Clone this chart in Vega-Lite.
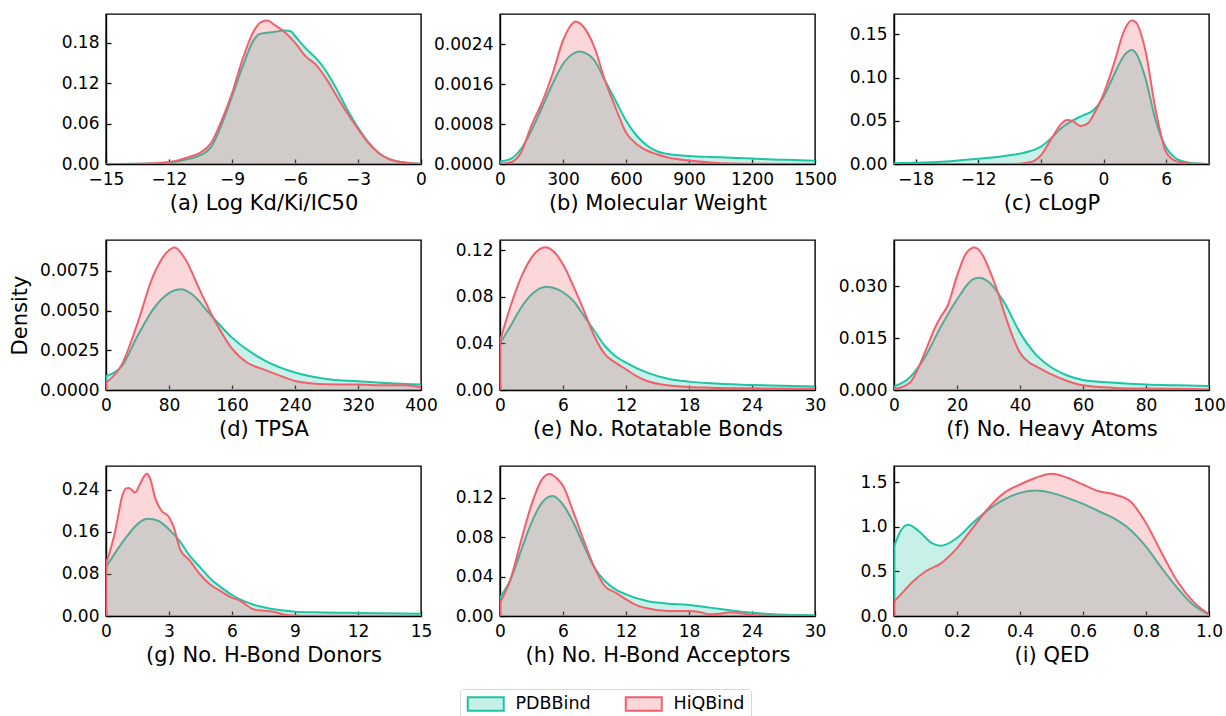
{
  "$schema": "https://vega.github.io/schema/vega-lite/v6.json",
  "description": "KDE of ligand properties, PDBBind vs HiQBind",
  "padding": {"left": 8, "top": 13, "right": 0, "bottom": 0},
  "background": "white",
  "data": {
    "values": [
      {"p":"a","s":"PDBBind","x":-15,"y":0},{"p":"a","s":"PDBBind","x":-13,"y":0.0005},{"p":"a","s":"PDBBind","x":-12,"y":0.002},{"p":"a","s":"PDBBind","x":-11,"y":0.008},{"p":"a","s":"PDBBind","x":-10.5,"y":0.013},{"p":"a","s":"PDBBind","x":-10,"y":0.025},{"p":"a","s":"PDBBind","x":-9.5,"y":0.058},{"p":"a","s":"PDBBind","x":-9,"y":0.1},{"p":"a","s":"PDBBind","x":-8.5,"y":0.144},{"p":"a","s":"PDBBind","x":-8,"y":0.182},{"p":"a","s":"PDBBind","x":-7.7,"y":0.193},{"p":"a","s":"PDBBind","x":-7,"y":0.196},{"p":"a","s":"PDBBind","x":-6.5,"y":0.198},{"p":"a","s":"PDBBind","x":-6.2,"y":0.197},{"p":"a","s":"PDBBind","x":-6,"y":0.19},{"p":"a","s":"PDBBind","x":-5.5,"y":0.172},{"p":"a","s":"PDBBind","x":-5,"y":0.157},{"p":"a","s":"PDBBind","x":-4.5,"y":0.137},{"p":"a","s":"PDBBind","x":-4,"y":0.11},{"p":"a","s":"PDBBind","x":-3.5,"y":0.08},{"p":"a","s":"PDBBind","x":-3,"y":0.054},{"p":"a","s":"PDBBind","x":-2.5,"y":0.032},{"p":"a","s":"PDBBind","x":-2,"y":0.016},{"p":"a","s":"PDBBind","x":-1.5,"y":0.007},{"p":"a","s":"PDBBind","x":-1,"y":0.003},{"p":"a","s":"PDBBind","x":-0.5,"y":0.0012},{"p":"a","s":"PDBBind","x":0,"y":0.0005},
      {"p":"a","s":"HiQBind","x":-15,"y":0},{"p":"a","s":"HiQBind","x":-13,"y":0.0008},{"p":"a","s":"HiQBind","x":-12,"y":0.003},{"p":"a","s":"HiQBind","x":-11,"y":0.011},{"p":"a","s":"HiQBind","x":-10.5,"y":0.017},{"p":"a","s":"HiQBind","x":-10,"y":0.031},{"p":"a","s":"HiQBind","x":-9.5,"y":0.064},{"p":"a","s":"HiQBind","x":-9,"y":0.105},{"p":"a","s":"HiQBind","x":-8.5,"y":0.155},{"p":"a","s":"HiQBind","x":-8,"y":0.195},{"p":"a","s":"HiQBind","x":-7.6,"y":0.211},{"p":"a","s":"HiQBind","x":-7.3,"y":0.213},{"p":"a","s":"HiQBind","x":-7,"y":0.207},{"p":"a","s":"HiQBind","x":-6.5,"y":0.196},{"p":"a","s":"HiQBind","x":-6,"y":0.18},{"p":"a","s":"HiQBind","x":-5.5,"y":0.16},{"p":"a","s":"HiQBind","x":-5,"y":0.147},{"p":"a","s":"HiQBind","x":-4.5,"y":0.126},{"p":"a","s":"HiQBind","x":-4,"y":0.1},{"p":"a","s":"HiQBind","x":-3.5,"y":0.075},{"p":"a","s":"HiQBind","x":-3,"y":0.052},{"p":"a","s":"HiQBind","x":-2.5,"y":0.031},{"p":"a","s":"HiQBind","x":-2,"y":0.016},{"p":"a","s":"HiQBind","x":-1.5,"y":0.007},{"p":"a","s":"HiQBind","x":-1,"y":0.003},{"p":"a","s":"HiQBind","x":-0.5,"y":0.0012},{"p":"a","s":"HiQBind","x":0,"y":0.0005},

      {"p":"b","s":"PDBBind","x":0,"y":0.00005},{"p":"b","s":"PDBBind","x":50,"y":0.0001},{"p":"b","s":"PDBBind","x":100,"y":0.0003},{"p":"b","s":"PDBBind","x":150,"y":0.00067},{"p":"b","s":"PDBBind","x":200,"y":0.00113},{"p":"b","s":"PDBBind","x":250,"y":0.0016},{"p":"b","s":"PDBBind","x":300,"y":0.002},{"p":"b","s":"PDBBind","x":350,"y":0.00221},{"p":"b","s":"PDBBind","x":375,"y":0.00225},{"p":"b","s":"PDBBind","x":400,"y":0.00223},{"p":"b","s":"PDBBind","x":450,"y":0.00207},{"p":"b","s":"PDBBind","x":500,"y":0.00167},{"p":"b","s":"PDBBind","x":550,"y":0.00127},{"p":"b","s":"PDBBind","x":600,"y":0.00087},{"p":"b","s":"PDBBind","x":650,"y":0.00057},{"p":"b","s":"PDBBind","x":700,"y":0.00037},{"p":"b","s":"PDBBind","x":750,"y":0.00025},{"p":"b","s":"PDBBind","x":800,"y":0.0002},{"p":"b","s":"PDBBind","x":900,"y":0.00016},{"p":"b","s":"PDBBind","x":1000,"y":0.00014},{"p":"b","s":"PDBBind","x":1100,"y":0.000127},{"p":"b","s":"PDBBind","x":1200,"y":0.00011},{"p":"b","s":"PDBBind","x":1300,"y":0.00009},{"p":"b","s":"PDBBind","x":1400,"y":0.00008},{"p":"b","s":"PDBBind","x":1500,"y":0.000067},
      {"p":"b","s":"HiQBind","x":0,"y":0},{"p":"b","s":"HiQBind","x":50,"y":0.00003},{"p":"b","s":"HiQBind","x":100,"y":0.00023},{"p":"b","s":"HiQBind","x":150,"y":0.00077},{"p":"b","s":"HiQBind","x":200,"y":0.00123},{"p":"b","s":"HiQBind","x":250,"y":0.0018},{"p":"b","s":"HiQBind","x":300,"y":0.00247},{"p":"b","s":"HiQBind","x":350,"y":0.00283},{"p":"b","s":"HiQBind","x":360,"y":0.00285},{"p":"b","s":"HiQBind","x":400,"y":0.00273},{"p":"b","s":"HiQBind","x":450,"y":0.00233},{"p":"b","s":"HiQBind","x":500,"y":0.00167},{"p":"b","s":"HiQBind","x":550,"y":0.00113},{"p":"b","s":"HiQBind","x":600,"y":0.00063},{"p":"b","s":"HiQBind","x":650,"y":0.0004},{"p":"b","s":"HiQBind","x":700,"y":0.00027},{"p":"b","s":"HiQBind","x":750,"y":0.00019},{"p":"b","s":"HiQBind","x":800,"y":0.00013},{"p":"b","s":"HiQBind","x":900,"y":0.00007},{"p":"b","s":"HiQBind","x":1000,"y":0.00003},{"p":"b","s":"HiQBind","x":1100,"y":0.00001},{"p":"b","s":"HiQBind","x":1200,"y":0.000005},{"p":"b","s":"HiQBind","x":1500,"y":0},

      {"p":"c","s":"PDBBind","x":-20,"y":0.001},{"p":"c","s":"PDBBind","x":-18,"y":0.0015},{"p":"c","s":"PDBBind","x":-15,"y":0.003},{"p":"c","s":"PDBBind","x":-12,"y":0.006},{"p":"c","s":"PDBBind","x":-10,"y":0.0085},{"p":"c","s":"PDBBind","x":-8,"y":0.012},{"p":"c","s":"PDBBind","x":-7,"y":0.015},{"p":"c","s":"PDBBind","x":-6,"y":0.02},{"p":"c","s":"PDBBind","x":-5,"y":0.03},{"p":"c","s":"PDBBind","x":-4,"y":0.042},{"p":"c","s":"PDBBind","x":-3,"y":0.05},{"p":"c","s":"PDBBind","x":-2,"y":0.056},{"p":"c","s":"PDBBind","x":-1,"y":0.062},{"p":"c","s":"PDBBind","x":0,"y":0.0775},{"p":"c","s":"PDBBind","x":1,"y":0.103},{"p":"c","s":"PDBBind","x":2,"y":0.126},{"p":"c","s":"PDBBind","x":2.7,"y":0.132},{"p":"c","s":"PDBBind","x":3,"y":0.13},{"p":"c","s":"PDBBind","x":4,"y":0.1},{"p":"c","s":"PDBBind","x":5,"y":0.05},{"p":"c","s":"PDBBind","x":6,"y":0.019},{"p":"c","s":"PDBBind","x":7,"y":0.006},{"p":"c","s":"PDBBind","x":8,"y":0.002},{"p":"c","s":"PDBBind","x":9,"y":0.0005},{"p":"c","s":"PDBBind","x":10,"y":0},
      {"p":"c","s":"HiQBind","x":-20,"y":0},{"p":"c","s":"HiQBind","x":-12,"y":0},{"p":"c","s":"HiQBind","x":-9,"y":0.0001},{"p":"c","s":"HiQBind","x":-8,"y":0.0004},{"p":"c","s":"HiQBind","x":-7,"y":0.002},{"p":"c","s":"HiQBind","x":-6,"y":0.01},{"p":"c","s":"HiQBind","x":-5,"y":0.029},{"p":"c","s":"HiQBind","x":-4,"y":0.047},{"p":"c","s":"HiQBind","x":-3.5,"y":0.051},{"p":"c","s":"HiQBind","x":-3,"y":0.05},{"p":"c","s":"HiQBind","x":-2.2,"y":0.044},{"p":"c","s":"HiQBind","x":-1.5,"y":0.047},{"p":"c","s":"HiQBind","x":-1,"y":0.056},{"p":"c","s":"HiQBind","x":0,"y":0.081},{"p":"c","s":"HiQBind","x":1,"y":0.116},{"p":"c","s":"HiQBind","x":2,"y":0.155},{"p":"c","s":"HiQBind","x":2.7,"y":0.166},{"p":"c","s":"HiQBind","x":3,"y":0.165},{"p":"c","s":"HiQBind","x":4,"y":0.132},{"p":"c","s":"HiQBind","x":5,"y":0.062},{"p":"c","s":"HiQBind","x":6,"y":0.0136},{"p":"c","s":"HiQBind","x":7,"y":0.003},{"p":"c","s":"HiQBind","x":8,"y":0.001},{"p":"c","s":"HiQBind","x":9,"y":0.0002},{"p":"c","s":"HiQBind","x":10,"y":0},

      {"p":"d","s":"PDBBind","x":0,"y":0.00088},{"p":"d","s":"PDBBind","x":20,"y":0.0015},{"p":"d","s":"PDBBind","x":40,"y":0.0034},{"p":"d","s":"PDBBind","x":60,"y":0.0051},{"p":"d","s":"PDBBind","x":80,"y":0.0061},{"p":"d","s":"PDBBind","x":95,"y":0.00634},{"p":"d","s":"PDBBind","x":110,"y":0.006},{"p":"d","s":"PDBBind","x":130,"y":0.0049},{"p":"d","s":"PDBBind","x":160,"y":0.0033},{"p":"d","s":"PDBBind","x":200,"y":0.0019},{"p":"d","s":"PDBBind","x":240,"y":0.0011},{"p":"d","s":"PDBBind","x":280,"y":0.0007},{"p":"d","s":"PDBBind","x":320,"y":0.00055},{"p":"d","s":"PDBBind","x":360,"y":0.00042},{"p":"d","s":"PDBBind","x":400,"y":0.00034},
      {"p":"d","s":"HiQBind","x":0,"y":0.00046},{"p":"d","s":"HiQBind","x":20,"y":0.0016},{"p":"d","s":"HiQBind","x":40,"y":0.0042},{"p":"d","s":"HiQBind","x":60,"y":0.0072},{"p":"d","s":"HiQBind","x":80,"y":0.0088},{"p":"d","s":"HiQBind","x":87,"y":0.00897},{"p":"d","s":"HiQBind","x":100,"y":0.0083},{"p":"d","s":"HiQBind","x":120,"y":0.0062},{"p":"d","s":"HiQBind","x":140,"y":0.0042},{"p":"d","s":"HiQBind","x":160,"y":0.0026},{"p":"d","s":"HiQBind","x":180,"y":0.0017},{"p":"d","s":"HiQBind","x":200,"y":0.0013},{"p":"d","s":"HiQBind","x":220,"y":0.00092},{"p":"d","s":"HiQBind","x":240,"y":0.00057},{"p":"d","s":"HiQBind","x":280,"y":0.00036},{"p":"d","s":"HiQBind","x":320,"y":0.00034},{"p":"d","s":"HiQBind","x":360,"y":0.0003},{"p":"d","s":"HiQBind","x":380,"y":0.0003},{"p":"d","s":"HiQBind","x":400,"y":0.00017},

      {"p":"e","s":"PDBBind","x":0,"y":0.04},{"p":"e","s":"PDBBind","x":1,"y":0.055},{"p":"e","s":"PDBBind","x":2,"y":0.0707},{"p":"e","s":"PDBBind","x":3,"y":0.082},{"p":"e","s":"PDBBind","x":4,"y":0.088},{"p":"e","s":"PDBBind","x":4.5,"y":0.0888},{"p":"e","s":"PDBBind","x":5.5,"y":0.0865},{"p":"e","s":"PDBBind","x":6,"y":0.084},{"p":"e","s":"PDBBind","x":7,"y":0.0765},{"p":"e","s":"PDBBind","x":8,"y":0.0636},{"p":"e","s":"PDBBind","x":9,"y":0.0507},{"p":"e","s":"PDBBind","x":10,"y":0.0378},{"p":"e","s":"PDBBind","x":11,"y":0.029},{"p":"e","s":"PDBBind","x":12,"y":0.0235},{"p":"e","s":"PDBBind","x":14,"y":0.0149},{"p":"e","s":"PDBBind","x":16,"y":0.0097},{"p":"e","s":"PDBBind","x":18,"y":0.0072},{"p":"e","s":"PDBBind","x":20,"y":0.0057},{"p":"e","s":"PDBBind","x":24,"y":0.0043},{"p":"e","s":"PDBBind","x":28,"y":0.0034},{"p":"e","s":"PDBBind","x":30,"y":0.0031},
      {"p":"e","s":"HiQBind","x":0,"y":0.042},{"p":"e","s":"HiQBind","x":1,"y":0.072},{"p":"e","s":"HiQBind","x":2,"y":0.0965},{"p":"e","s":"HiQBind","x":3,"y":0.1137},{"p":"e","s":"HiQBind","x":4,"y":0.122},{"p":"e","s":"HiQBind","x":4.3,"y":0.1226},{"p":"e","s":"HiQBind","x":5,"y":0.12},{"p":"e","s":"HiQBind","x":6,"y":0.108},{"p":"e","s":"HiQBind","x":7,"y":0.089},{"p":"e","s":"HiQBind","x":8,"y":0.068},{"p":"e","s":"HiQBind","x":9,"y":0.046},{"p":"e","s":"HiQBind","x":10,"y":0.0306},{"p":"e","s":"HiQBind","x":11,"y":0.0235},{"p":"e","s":"HiQBind","x":12,"y":0.0178},{"p":"e","s":"HiQBind","x":13,"y":0.012},{"p":"e","s":"HiQBind","x":14,"y":0.0077},{"p":"e","s":"HiQBind","x":16,"y":0.004},{"p":"e","s":"HiQBind","x":18,"y":0.0026},{"p":"e","s":"HiQBind","x":20,"y":0.002},{"p":"e","s":"HiQBind","x":24,"y":0.0014},{"p":"e","s":"HiQBind","x":30,"y":0.0011},

      {"p":"f","s":"PDBBind","x":0,"y":0.001},{"p":"f","s":"PDBBind","x":5,"y":0.0036},{"p":"f","s":"PDBBind","x":10,"y":0.0098},{"p":"f","s":"PDBBind","x":15,"y":0.0185},{"p":"f","s":"PDBBind","x":20,"y":0.0262},{"p":"f","s":"PDBBind","x":25,"y":0.032},{"p":"f","s":"PDBBind","x":27,"y":0.0325},{"p":"f","s":"PDBBind","x":30,"y":0.0313},{"p":"f","s":"PDBBind","x":35,"y":0.0253},{"p":"f","s":"PDBBind","x":40,"y":0.0166},{"p":"f","s":"PDBBind","x":45,"y":0.0103},{"p":"f","s":"PDBBind","x":50,"y":0.0065},{"p":"f","s":"PDBBind","x":55,"y":0.0042},{"p":"f","s":"PDBBind","x":60,"y":0.0029},{"p":"f","s":"PDBBind","x":70,"y":0.0021},{"p":"f","s":"PDBBind","x":80,"y":0.0016},{"p":"f","s":"PDBBind","x":90,"y":0.00135},{"p":"f","s":"PDBBind","x":100,"y":0.00116},
      {"p":"f","s":"HiQBind","x":0,"y":0.0002},{"p":"f","s":"HiQBind","x":5,"y":0.0021},{"p":"f","s":"HiQBind","x":10,"y":0.0113},{"p":"f","s":"HiQBind","x":13,"y":0.018},{"p":"f","s":"HiQBind","x":15,"y":0.0214},{"p":"f","s":"HiQBind","x":17,"y":0.0243},{"p":"f","s":"HiQBind","x":20,"y":0.033},{"p":"f","s":"HiQBind","x":23,"y":0.0397},{"p":"f","s":"HiQBind","x":25.5,"y":0.0412},{"p":"f","s":"HiQBind","x":28,"y":0.0393},{"p":"f","s":"HiQBind","x":30,"y":0.0354},{"p":"f","s":"HiQBind","x":33,"y":0.0282},{"p":"f","s":"HiQBind","x":35,"y":0.0224},{"p":"f","s":"HiQBind","x":38,"y":0.0147},{"p":"f","s":"HiQBind","x":40,"y":0.0108},{"p":"f","s":"HiQBind","x":43,"y":0.0079},{"p":"f","s":"HiQBind","x":45,"y":0.0069},{"p":"f","s":"HiQBind","x":50,"y":0.0045},{"p":"f","s":"HiQBind","x":55,"y":0.0026},{"p":"f","s":"HiQBind","x":60,"y":0.00135},{"p":"f","s":"HiQBind","x":70,"y":0.0006},{"p":"f","s":"HiQBind","x":80,"y":0.0004},{"p":"f","s":"HiQBind","x":100,"y":0.0002},

      {"p":"g","s":"PDBBind","x":0,"y":0.093},{"p":"g","s":"PDBBind","x":0.5,"y":0.124},{"p":"g","s":"PDBBind","x":1,"y":0.152},{"p":"g","s":"PDBBind","x":1.5,"y":0.175},{"p":"g","s":"PDBBind","x":2,"y":0.185},{"p":"g","s":"PDBBind","x":2.5,"y":0.181},{"p":"g","s":"PDBBind","x":3,"y":0.165},{"p":"g","s":"PDBBind","x":3.5,"y":0.143},{"p":"g","s":"PDBBind","x":4,"y":0.114},{"p":"g","s":"PDBBind","x":4.5,"y":0.092},{"p":"g","s":"PDBBind","x":5,"y":0.07},{"p":"g","s":"PDBBind","x":5.5,"y":0.054},{"p":"g","s":"PDBBind","x":6,"y":0.04},{"p":"g","s":"PDBBind","x":7,"y":0.022},{"p":"g","s":"PDBBind","x":8,"y":0.0127},{"p":"g","s":"PDBBind","x":9,"y":0.0083},{"p":"g","s":"PDBBind","x":10,"y":0.007},{"p":"g","s":"PDBBind","x":12,"y":0.0057},{"p":"g","s":"PDBBind","x":15,"y":0.0044},
      {"p":"g","s":"HiQBind","x":0,"y":0.1},{"p":"g","s":"HiQBind","x":0.2,"y":0.125},{"p":"g","s":"HiQBind","x":0.4,"y":0.155},{"p":"g","s":"HiQBind","x":0.6,"y":0.195},{"p":"g","s":"HiQBind","x":0.75,"y":0.225},{"p":"g","s":"HiQBind","x":0.95,"y":0.243},{"p":"g","s":"HiQBind","x":1.1,"y":0.244},{"p":"g","s":"HiQBind","x":1.38,"y":0.235},{"p":"g","s":"HiQBind","x":1.6,"y":0.25},{"p":"g","s":"HiQBind","x":1.94,"y":0.271},{"p":"g","s":"HiQBind","x":2.1,"y":0.262},{"p":"g","s":"HiQBind","x":2.34,"y":0.225},{"p":"g","s":"HiQBind","x":2.65,"y":0.2},{"p":"g","s":"HiQBind","x":2.97,"y":0.19},{"p":"g","s":"HiQBind","x":3.21,"y":0.171},{"p":"g","s":"HiQBind","x":3.53,"y":0.127},{"p":"g","s":"HiQBind","x":4,"y":0.105},{"p":"g","s":"HiQBind","x":4.48,"y":0.079},{"p":"g","s":"HiQBind","x":4.96,"y":0.06},{"p":"g","s":"HiQBind","x":5.44,"y":0.048},{"p":"g","s":"HiQBind","x":5.99,"y":0.035},{"p":"g","s":"HiQBind","x":6.39,"y":0.029},{"p":"g","s":"HiQBind","x":7.03,"y":0.0127},{"p":"g","s":"HiQBind","x":7.98,"y":0.008},{"p":"g","s":"HiQBind","x":8.46,"y":0.003},{"p":"g","s":"HiQBind","x":9,"y":0.001},{"p":"g","s":"HiQBind","x":10,"y":0.0005},{"p":"g","s":"HiQBind","x":12,"y":0.0003},{"p":"g","s":"HiQBind","x":15,"y":0.0002},

      {"p":"h","s":"PDBBind","x":0,"y":0.0186},{"p":"h","s":"PDBBind","x":1,"y":0.037},{"p":"h","s":"PDBBind","x":2,"y":0.066},{"p":"h","s":"PDBBind","x":3,"y":0.0946},{"p":"h","s":"PDBBind","x":4,"y":0.115},{"p":"h","s":"PDBBind","x":5,"y":0.1217},{"p":"h","s":"PDBBind","x":6,"y":0.113},{"p":"h","s":"PDBBind","x":7,"y":0.0946},{"p":"h","s":"PDBBind","x":8,"y":0.071},{"p":"h","s":"PDBBind","x":9,"y":0.049},{"p":"h","s":"PDBBind","x":10,"y":0.0355},{"p":"h","s":"PDBBind","x":11,"y":0.027},{"p":"h","s":"PDBBind","x":12,"y":0.022},{"p":"h","s":"PDBBind","x":14,"y":0.0152},{"p":"h","s":"PDBBind","x":16,"y":0.0125},{"p":"h","s":"PDBBind","x":18,"y":0.0112},{"p":"h","s":"PDBBind","x":20,"y":0.0085},{"p":"h","s":"PDBBind","x":22,"y":0.0057},{"p":"h","s":"PDBBind","x":24,"y":0.0034},{"p":"h","s":"PDBBind","x":26,"y":0.0017},{"p":"h","s":"PDBBind","x":28,"y":0.001},{"p":"h","s":"PDBBind","x":30,"y":0.0007},
      {"p":"h","s":"HiQBind","x":0,"y":0.0135},{"p":"h","s":"HiQBind","x":1,"y":0.037},{"p":"h","s":"HiQBind","x":2,"y":0.076},{"p":"h","s":"HiQBind","x":3,"y":0.113},{"p":"h","s":"HiQBind","x":4,"y":0.1386},{"p":"h","s":"HiQBind","x":4.7,"y":0.144},{"p":"h","s":"HiQBind","x":5.5,"y":0.1386},{"p":"h","s":"HiQBind","x":6,"y":0.132},{"p":"h","s":"HiQBind","x":7,"y":0.105},{"p":"h","s":"HiQBind","x":8,"y":0.076},{"p":"h","s":"HiQBind","x":9,"y":0.049},{"p":"h","s":"HiQBind","x":10,"y":0.03},{"p":"h","s":"HiQBind","x":11,"y":0.0237},{"p":"h","s":"HiQBind","x":12,"y":0.0169},{"p":"h","s":"HiQBind","x":13,"y":0.011},{"p":"h","s":"HiQBind","x":14,"y":0.0078},{"p":"h","s":"HiQBind","x":16,"y":0.005},{"p":"h","s":"HiQBind","x":18,"y":0.005},{"p":"h","s":"HiQBind","x":19,"y":0.004},{"p":"h","s":"HiQBind","x":20,"y":0.0017},{"p":"h","s":"HiQBind","x":21,"y":0.0024},{"p":"h","s":"HiQBind","x":22,"y":0.0037},{"p":"h","s":"HiQBind","x":23,"y":0.0027},{"p":"h","s":"HiQBind","x":24,"y":0.001},{"p":"h","s":"HiQBind","x":26,"y":0.0003},{"p":"h","s":"HiQBind","x":30,"y":0},

      {"p":"i","s":"PDBBind","x":0,"y":0.78},{"p":"i","s":"PDBBind","x":0.02,"y":0.95},{"p":"i","s":"PDBBind","x":0.045,"y":1.026},{"p":"i","s":"PDBBind","x":0.08,"y":0.95},{"p":"i","s":"PDBBind","x":0.12,"y":0.82},{"p":"i","s":"PDBBind","x":0.15,"y":0.79},{"p":"i","s":"PDBBind","x":0.2,"y":0.876},{"p":"i","s":"PDBBind","x":0.25,"y":1.045},{"p":"i","s":"PDBBind","x":0.3,"y":1.195},{"p":"i","s":"PDBBind","x":0.35,"y":1.31},{"p":"i","s":"PDBBind","x":0.4,"y":1.383},{"p":"i","s":"PDBBind","x":0.45,"y":1.41},{"p":"i","s":"PDBBind","x":0.5,"y":1.383},{"p":"i","s":"PDBBind","x":0.55,"y":1.327},{"p":"i","s":"PDBBind","x":0.6,"y":1.26},{"p":"i","s":"PDBBind","x":0.65,"y":1.177},{"p":"i","s":"PDBBind","x":0.7,"y":1.094},{"p":"i","s":"PDBBind","x":0.75,"y":0.97},{"p":"i","s":"PDBBind","x":0.8,"y":0.78},{"p":"i","s":"PDBBind","x":0.85,"y":0.538},{"p":"i","s":"PDBBind","x":0.9,"y":0.312},{"p":"i","s":"PDBBind","x":0.95,"y":0.124},{"p":"i","s":"PDBBind","x":1,"y":0.019},
      {"p":"i","s":"HiQBind","x":0,"y":0.162},{"p":"i","s":"HiQBind","x":0.03,"y":0.274},{"p":"i","s":"HiQBind","x":0.06,"y":0.387},{"p":"i","s":"HiQBind","x":0.1,"y":0.5},{"p":"i","s":"HiQBind","x":0.15,"y":0.594},{"p":"i","s":"HiQBind","x":0.2,"y":0.763},{"p":"i","s":"HiQBind","x":0.25,"y":0.989},{"p":"i","s":"HiQBind","x":0.3,"y":1.214},{"p":"i","s":"HiQBind","x":0.35,"y":1.383},{"p":"i","s":"HiQBind","x":0.4,"y":1.477},{"p":"i","s":"HiQBind","x":0.45,"y":1.553},{"p":"i","s":"HiQBind","x":0.5,"y":1.598},{"p":"i","s":"HiQBind","x":0.55,"y":1.553},{"p":"i","s":"HiQBind","x":0.6,"y":1.477},{"p":"i","s":"HiQBind","x":0.65,"y":1.402},{"p":"i","s":"HiQBind","x":0.7,"y":1.365},{"p":"i","s":"HiQBind","x":0.75,"y":1.289},{"p":"i","s":"HiQBind","x":0.8,"y":1.045},{"p":"i","s":"HiQBind","x":0.85,"y":0.707},{"p":"i","s":"HiQBind","x":0.9,"y":0.387},{"p":"i","s":"HiQBind","x":0.95,"y":0.162},{"p":"i","s":"HiQBind","x":1,"y":0.019}
    ]
  },
  "columns": 3,
  "bounds": "flush",
  "spacing": {"row": 76, "column": 79},
  "concat": [
    {
      "width": 315, "height": 150,
      "transform": [{"filter": "datum.p == 'a'"}],
      "mark": {"type": "area", "orient": "vertical", "interpolate": "monotone", "fillOpacity": 0.25, "strokeWidth": 2, "strokeJoin": "round", "clip": true},
      "encoding": {
        "x": {"field": "x", "type": "quantitative", "scale": {"domain": [-15, 0], "nice": false, "zero": false}, "axis": {"values": [-15, -12, -9, -6, -3, 0], "format": "d", "title": "(a) Log Kd/Ki/IC50"}},
        "y": {"field": "y", "type": "quantitative", "stack": null, "scale": {"domain": [0, 0.2226], "nice": false}, "axis": {"values": [0, 0.06, 0.12, 0.18], "format": ".2f", "title": null}},
        "fill": {"field": "s", "type": "nominal", "scale": {"domain": ["PDBBind", "HiQBind"], "range": ["#1fc4a4", "#f0606c"]}, "legend": {"title": null, "encode": {"symbols": {"update": {"fillOpacity": {"value": 0.25}, "strokeWidth": {"value": 2}}}}}},
        "stroke": {"field": "s", "type": "nominal", "scale": {"domain": ["PDBBind", "HiQBind"], "range": ["#1fc4a4", "#f0606c"]}, "legend": {"title": null, "encode": {"symbols": {"update": {"fillOpacity": {"value": 0.25}, "strokeWidth": {"value": 2}}}}}}
      }
    },
    {
      "width": 315, "height": 150,
      "transform": [{"filter": "datum.p == 'b'"}],
      "mark": {"type": "area", "orient": "vertical", "interpolate": "monotone", "fillOpacity": 0.25, "strokeWidth": 2, "strokeJoin": "round", "clip": true},
      "encoding": {
        "x": {"field": "x", "type": "quantitative", "scale": {"domain": [0, 1500], "nice": false, "zero": false}, "axis": {"values": [0, 300, 600, 900, 1200, 1500], "format": "d", "title": "(b) Molecular Weight"}},
        "y": {"field": "y", "type": "quantitative", "stack": null, "scale": {"domain": [0, 0.003], "nice": false}, "axis": {"values": [0, 0.0008, 0.0016, 0.0024], "format": ".4f", "title": null}},
        "fill": {"field": "s", "type": "nominal"},
        "stroke": {"field": "s", "type": "nominal"}
      }
    },
    {
      "width": 315, "height": 150,
      "transform": [{"filter": "datum.p == 'c'"}],
      "mark": {"type": "area", "orient": "vertical", "interpolate": "monotone", "fillOpacity": 0.25, "strokeWidth": 2, "strokeJoin": "round", "clip": true},
      "encoding": {
        "x": {"field": "x", "type": "quantitative", "scale": {"domain": [-20.06, 10.1], "nice": false, "zero": false}, "axis": {"values": [-18, -12, -6, 0, 6], "format": "d", "title": "(c) cLogP"}},
        "y": {"field": "y", "type": "quantitative", "stack": null, "scale": {"domain": [0, 0.1736], "nice": false}, "axis": {"values": [0, 0.05, 0.1, 0.15], "format": ".2f", "title": null}},
        "fill": {"field": "s", "type": "nominal"},
        "stroke": {"field": "s", "type": "nominal"}
      }
    },
    {
      "width": 315, "height": 150,
      "transform": [{"filter": "datum.p == 'd'"}],
      "mark": {"type": "area", "orient": "vertical", "interpolate": "monotone", "fillOpacity": 0.25, "strokeWidth": 2, "strokeJoin": "round", "clip": true},
      "encoding": {
        "x": {"field": "x", "type": "quantitative", "scale": {"domain": [0, 400], "nice": false, "zero": false}, "axis": {"values": [0, 80, 160, 240, 320, 400], "format": "d", "title": "(d) TPSA"}},
        "y": {"field": "y", "type": "quantitative", "stack": null, "scale": {"domain": [0, 0.00945], "nice": false}, "axis": {"values": [0, 0.0025, 0.005, 0.0075], "format": ".4f", "title": "Density", "titlePadding": 9}},
        "fill": {"field": "s", "type": "nominal"},
        "stroke": {"field": "s", "type": "nominal"}
      }
    },
    {
      "width": 315, "height": 150,
      "transform": [{"filter": "datum.p == 'e'"}],
      "mark": {"type": "area", "orient": "vertical", "interpolate": "monotone", "fillOpacity": 0.25, "strokeWidth": 2, "strokeJoin": "round", "clip": true},
      "encoding": {
        "x": {"field": "x", "type": "quantitative", "scale": {"domain": [0, 30], "nice": false, "zero": false}, "axis": {"values": [0, 6, 12, 18, 24, 30], "format": "d", "title": "(e) No. Rotatable Bonds"}},
        "y": {"field": "y", "type": "quantitative", "stack": null, "scale": {"domain": [0, 0.1289], "nice": false}, "axis": {"values": [0, 0.04, 0.08, 0.12], "format": ".2f", "title": null}},
        "fill": {"field": "s", "type": "nominal"},
        "stroke": {"field": "s", "type": "nominal"}
      }
    },
    {
      "width": 315, "height": 150,
      "transform": [{"filter": "datum.p == 'f'"}],
      "mark": {"type": "area", "orient": "vertical", "interpolate": "monotone", "fillOpacity": 0.25, "strokeWidth": 2, "strokeJoin": "round", "clip": true},
      "encoding": {
        "x": {"field": "x", "type": "quantitative", "scale": {"domain": [0, 100], "nice": false, "zero": false}, "axis": {"values": [0, 20, 40, 60, 80, 100], "format": "d", "title": "(f) No. Heavy Atoms"}},
        "y": {"field": "y", "type": "quantitative", "stack": null, "scale": {"domain": [0, 0.0434], "nice": false}, "axis": {"values": [0, 0.015, 0.03], "format": ".3f", "title": null}},
        "fill": {"field": "s", "type": "nominal"},
        "stroke": {"field": "s", "type": "nominal"}
      }
    },
    {
      "width": 315, "height": 150,
      "transform": [{"filter": "datum.p == 'g'"}],
      "mark": {"type": "area", "orient": "vertical", "interpolate": "monotone", "fillOpacity": 0.25, "strokeWidth": 2, "strokeJoin": "round", "clip": true},
      "encoding": {
        "x": {"field": "x", "type": "quantitative", "scale": {"domain": [0, 15], "nice": false, "zero": false}, "axis": {"values": [0, 3, 6, 9, 12, 15], "format": "d", "title": "(g) No. H-Bond Donors"}},
        "y": {"field": "y", "type": "quantitative", "stack": null, "scale": {"domain": [0, 0.2857], "nice": false}, "axis": {"values": [0, 0.08, 0.16, 0.24], "format": ".2f", "title": null}},
        "fill": {"field": "s", "type": "nominal"},
        "stroke": {"field": "s", "type": "nominal"}
      }
    },
    {
      "width": 315, "height": 150,
      "transform": [{"filter": "datum.p == 'h'"}],
      "mark": {"type": "area", "orient": "vertical", "interpolate": "monotone", "fillOpacity": 0.25, "strokeWidth": 2, "strokeJoin": "round", "clip": true},
      "encoding": {
        "x": {"field": "x", "type": "quantitative", "scale": {"domain": [0, 30], "nice": false, "zero": false}, "axis": {"values": [0, 6, 12, 18, 24, 30], "format": "d", "title": "(h) No. H-Bond Acceptors"}},
        "y": {"field": "y", "type": "quantitative", "stack": null, "scale": {"domain": [0, 0.1521], "nice": false}, "axis": {"values": [0, 0.04, 0.08, 0.12], "format": ".2f", "title": null}},
        "fill": {"field": "s", "type": "nominal"},
        "stroke": {"field": "s", "type": "nominal"}
      }
    },
    {
      "width": 315, "height": 150,
      "transform": [{"filter": "datum.p == 'i'"}],
      "mark": {"type": "area", "orient": "vertical", "interpolate": "monotone", "fillOpacity": 0.25, "strokeWidth": 2, "strokeJoin": "round", "clip": true},
      "encoding": {
        "x": {"field": "x", "type": "quantitative", "scale": {"domain": [0, 1], "nice": false, "zero": false}, "axis": {"values": [0, 0.2, 0.4, 0.6, 0.8, 1], "format": ".1f", "title": "(i) QED"}},
        "y": {"field": "y", "type": "quantitative", "stack": null, "scale": {"domain": [0, 1.685], "nice": false}, "axis": {"values": [0, 0.5, 1, 1.5], "format": ".1f", "title": null}},
        "fill": {"field": "s", "type": "nominal"},
        "stroke": {"field": "s", "type": "nominal"}
      }
    }
  ],
  "config": {
    "font": "DejaVu Sans",
    "view": {"stroke": "black", "strokeWidth": 1.4},
    "axis": {
      "grid": false,
      "domain": true,
      "domainColor": "black",
      "domainWidth": 1.4,
      "tickColor": "black",
      "tickWidth": 1.3,
      "tickSize": -5,
      "labelFont": "DejaVu Sans",
      "labelFontSize": 17,
      "labelColor": "black",
      "labelPadding": 12,
      "labelFlush": false,
      "labelOverlap": false,
      "labelBound": false,
      "titleFont": "DejaVu Sans",
      "titleFontSize": 21,
      "titleFontWeight": "normal",
      "titleColor": "black",
      "zindex": 1
    },
    "axisX": {"titlePadding": 5},
    "legend": {
      "orient": "none",
      "legendX": 354,
      "legendY": 675,
      "direction": "horizontal",
      "columns": 2,
      "labelFont": "DejaVu Sans",
      "labelFontSize": 17.5,
      "labelColor": "black",
      "labelOffset": 32,
      "columnPadding": 30,
      "symbolType": "M-1,-0.96H4.14V0.96H-1Z",
      "symbolSize": 196,
      "symbolStrokeWidth": 2,
      "strokeColor": "#d6d6d6",
      "fillColor": "white",
      "padding": 6,
      "cornerRadius": 3
    }
  }
}
